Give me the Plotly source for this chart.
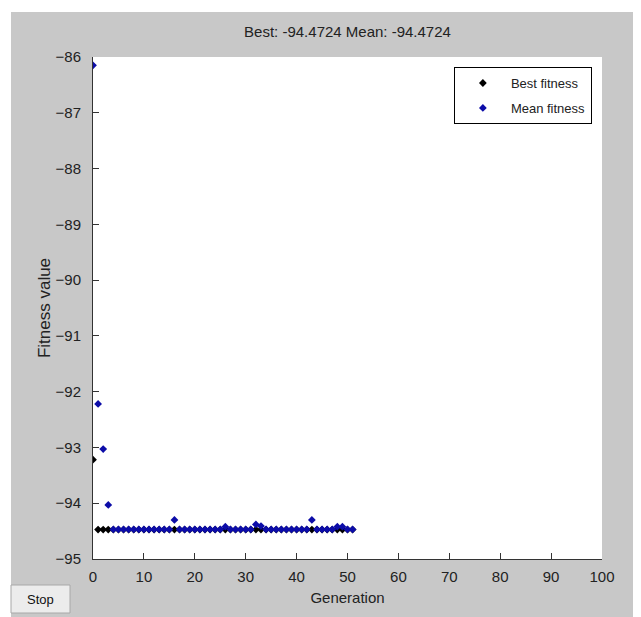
import plotly.graph_objects as go

generations = list(range(52))
best_fitness = [-93.22] + [-94.4724] * 51
mean_fitness = [
    -86.15, -92.22, -93.03, -94.03, -94.47, -94.47, -94.47, -94.47, -94.47, -94.47,
    -94.47, -94.47, -94.47, -94.47, -94.47, -94.47, -94.30, -94.47, -94.47, -94.47,
    -94.47, -94.47, -94.47, -94.47, -94.47, -94.47, -94.42, -94.47, -94.47, -94.47,
    -94.47, -94.47, -94.38, -94.41, -94.47, -94.47, -94.47, -94.47, -94.47, -94.47,
    -94.47, -94.47, -94.47, -94.30, -94.47, -94.47, -94.47, -94.47, -94.42, -94.42,
    -94.47, -94.47,
]
x_ticks = [0, 10, 20, 30, 40, 50, 60, 70, 80, 90, 100]
y_ticks = [-95, -94, -93, -92, -91, -90, -89, -88, -87, -86]
title_text = "Best: -94.4724 Mean: -94.4724"

FONT = "Liberation Sans, Arial, sans-serif"
GRAY = "#c8c8c8"
TXT = "#222222"

# figure geometry (page body adds 8px offset)
W, H = 633, 609
L, R, T, B = 85, 39, 49, 58
PW, PH = W - L - R, H - T - B


def px(fx):
    return (fx - L) / PW


def py(fy):
    return (H - B - fy) / PH


fig = go.Figure()
fig.add_trace(go.Scatter(
    x=generations, y=best_fitness, mode="markers", name="Best fitness",
    legendgroup="a",
    marker=dict(symbol="diamond", size=6, color="#000000"),
))
fig.add_trace(go.Scatter(
    x=generations, y=mean_fitness, mode="markers", name="Mean fitness",
    legendgroup="b",
    marker=dict(symbol="diamond", size=6, color="#0c0ca8"),
))

fig.update_layout(
    width=W, height=H,
    margin=dict(l=L, r=R, t=T, b=B),
    paper_bgcolor=GRAY, plot_bgcolor="white",
    font=dict(family=FONT, size=14, color=TXT),
    title=dict(text=title_text, x=0.5, xref="paper", y=1 - 24 / H,
               yanchor="middle", xanchor="center",
               font=dict(family=FONT, size=15, color=TXT)),
    xaxis=dict(range=[0, 100], tickvals=x_ticks, ticks="inside", ticklen=6,
               tickcolor="#333333", showline=True, linecolor="#333333", linewidth=1,
               showgrid=False, zeroline=False, ticklabelstandoff=4,
               tickfont=dict(size=15),
               title=dict(text="Generation", standoff=8,
                          font=dict(family=FONT, size=15))),
    yaxis=dict(range=[-95, -86], tickvals=y_ticks, ticks="inside", ticklen=6,
               tickcolor="#333333", showline=True, linecolor="#333333", linewidth=1,
               showgrid=False, zeroline=False, ticklabelstandoff=8,
               tickfont=dict(size=15),
               title=dict(text="Fitness value", standoff=0,
                          font=dict(family=FONT, size=17))),
    legend=dict(x=0.709, y=0.98, xanchor="left", yanchor="top",
                bgcolor="white", bordercolor="#000000", borderwidth=1,
                font=dict(family=FONT, size=13, color=TXT),
                itemwidth=46, traceorder="grouped", tracegroupgap=5),
    showlegend=True,
    shapes=[
        dict(type="rect", xref="paper", yref="paper", layer="below",
             x0=px(-10), x1=px(W + 10), y0=py(4), y1=py(-10),
             fillcolor="white", line=dict(width=0)),
        dict(type="rect", xref="paper", yref="paper", layer="below",
             x0=px(-10), x1=px(3), y0=py(H + 10), y1=py(-10),
             fillcolor="white", line=dict(width=0)),
        dict(type="rect", xref="paper", yref="paper", layer="above",
             x0=px(3), x1=px(62), y0=py(605), y1=py(577),
             fillcolor="#ececec", line=dict(width=1, color="#a8a8a8")),
    ],
    annotations=[
        dict(text="Stop", xref="paper", yref="paper",
             x=px(32), y=py(591),
             showarrow=False, xanchor="center", yanchor="middle",
             font=dict(family=FONT, size=13, color="#111111")),
    ],
)

fig.write_html("out.html")
